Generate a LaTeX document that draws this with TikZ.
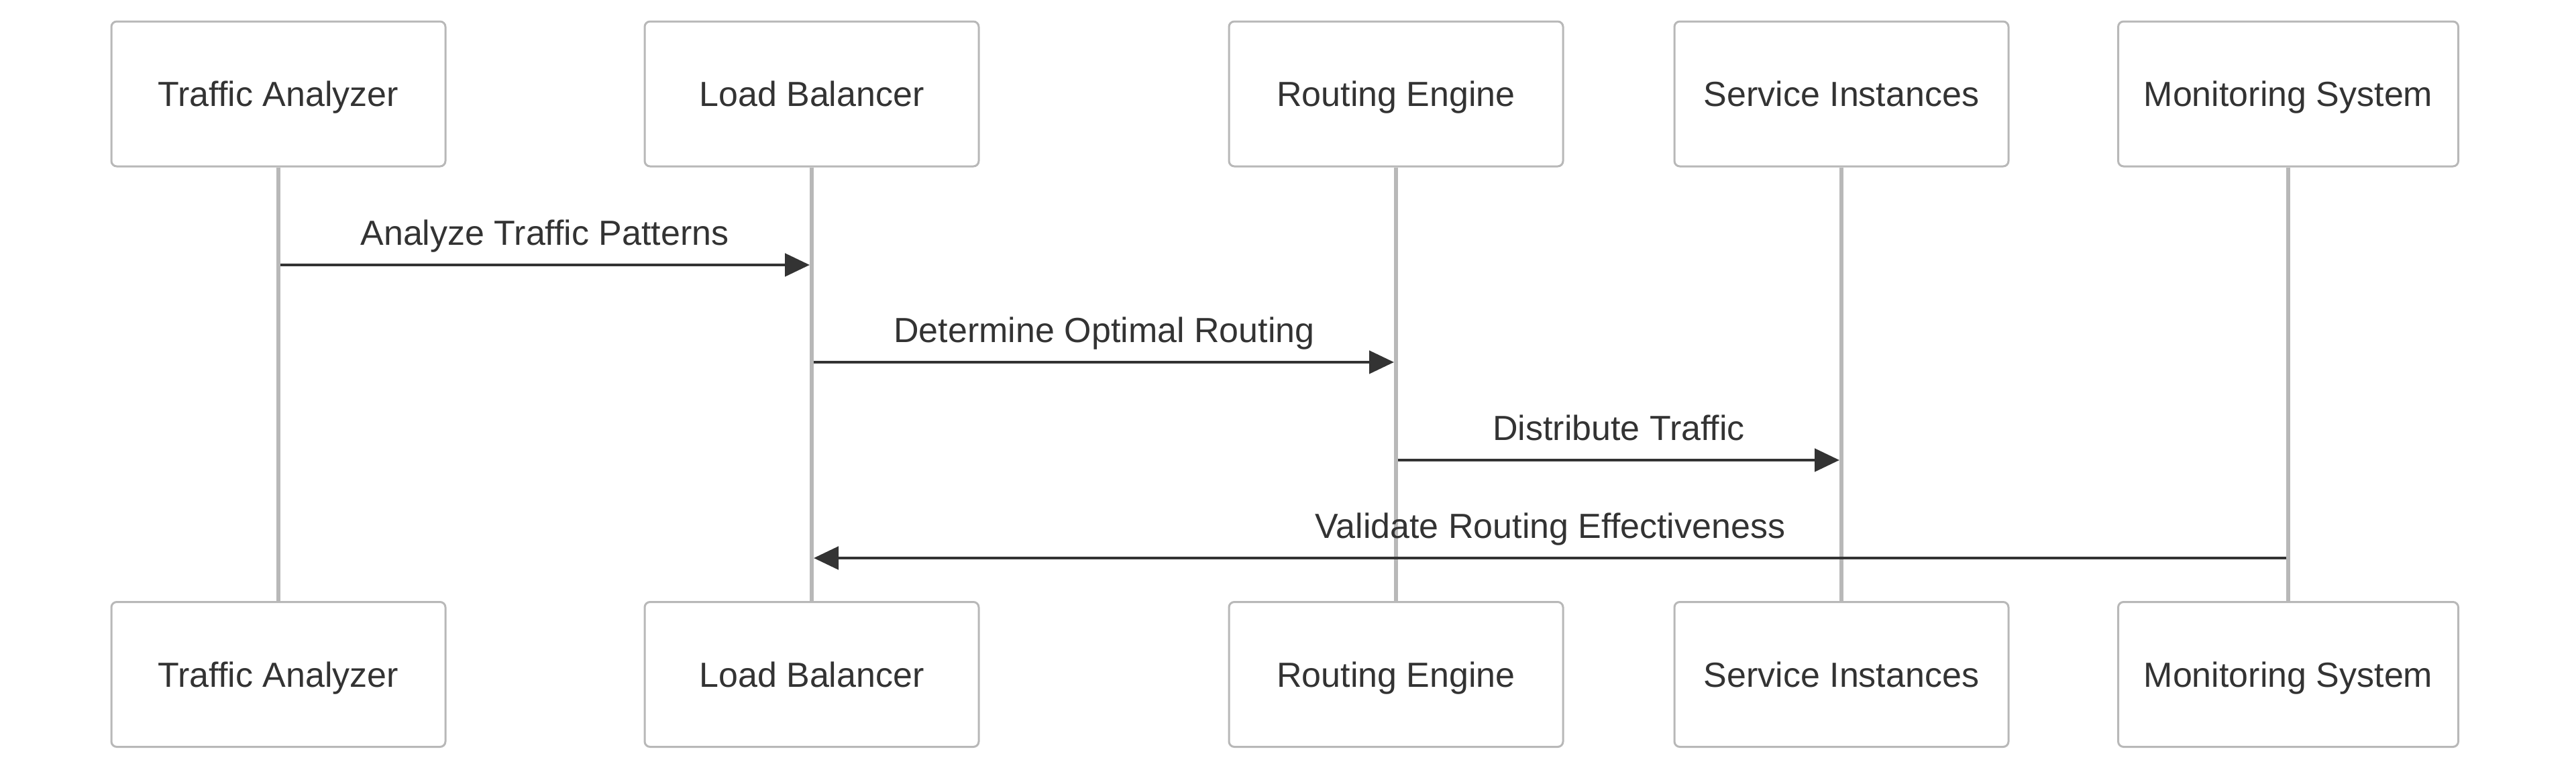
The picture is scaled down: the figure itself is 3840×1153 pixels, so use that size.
\documentclass[tikz,border=0pt]{standalone}
\usepackage{fontspec}
\setmainfont{Liberation Sans}
\usetikzlibrary{arrows.meta}
\definecolor{linegray}{HTML}{B8B8B8}
\definecolor{ink}{HTML}{333333}
\begin{document}
\begin{tikzpicture}[x=0.5pt,y=-0.5pt,
  actor/.style={draw=linegray, line width=1.5pt, rounded corners=4pt, fill=white,
    minimum width=249pt, minimum height=108pt, inner sep=0pt, text=ink,
    font=\fontsize{26pt}{31pt}\selectfont, text height=18.6pt, text depth=0pt},
  wideactor/.style={actor, minimum width=253.5pt},
  life/.style={draw=linegray, line width=3.2pt},
  msg/.style={draw=ink, line width=2.4pt, -{Triangle[length=18.5pt,width=17pt]}},
  lbl/.style={anchor=base, text=ink, inner sep=0pt, font=\fontsize{26pt}{31pt}\selectfont}]
\useasboundingbox (0,0) rectangle (3840,1153);
% top actors
\node[actor] (ta) at (415,140) {Traffic Analyzer};
\node[actor] (lb) at (1210,140) {Load Balancer};
\node[actor] (re) at (2081,140) {Routing Engine};
\node[actor] (si) at (2745,140) {Service Instances};
\node[wideactor] (ms) at (3411,140) {Monitoring System};
% bottom actors
\node[actor] (ta2) at (415,1005.5) {Traffic Analyzer};
\node[actor] (lb2) at (1210,1005.5) {Load Balancer};
\node[actor] (re2) at (2081,1005.5) {Routing Engine};
\node[actor] (si2) at (2745,1005.5) {Service Instances};
\node[wideactor] (ms2) at (3411,1005.5) {Monitoring System};
% lifelines
\draw[life] (ta.south) -- (ta2.north);
\draw[life] (lb.south) -- (lb2.north);
\draw[life] (re.south) -- (re2.north);
\draw[life] (si.south) -- (si2.north);
\draw[life] (ms.south) -- (ms2.north);
% message anchor points
\coordinate (m1a) at (418,395);
\coordinate (m1b) at (1207,395);
\coordinate (m2a) at (1213,540);
\coordinate (m2b) at (2078,540);
\coordinate (m3a) at (2084,686);
\coordinate (m3b) at (2742,686);
\coordinate (m4a) at (3408,832);
\coordinate (m4b) at (1213,832);
% messages
\draw[msg] (m1a) -- (m1b);
\node[lbl] (l1) at (812,365) {Analyze Traffic Patterns};
\draw[msg] (m2a) -- (m2b);
\node[lbl] (l2) at (1646,510) {Determine Optimal Routing};
\draw[msg] (m3a) -- (m3b);
\node[lbl] (l3) at (2413,656) {Distribute Traffic};
\draw[msg] (m4a) -- (m4b);
\node[lbl] (l4) at (2311,802) {Validate Routing Effectiveness};
\end{tikzpicture}
\end{document}
